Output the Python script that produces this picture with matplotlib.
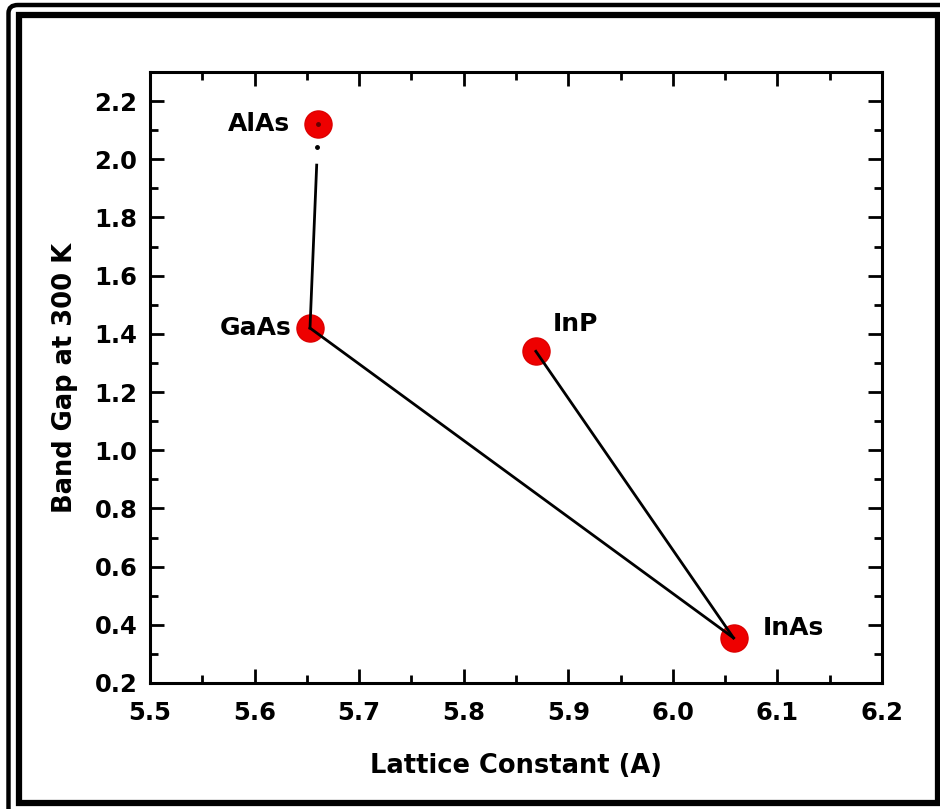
import matplotlib
matplotlib.use("Agg")
import matplotlib.pyplot as plt
from matplotlib.patches import Rectangle, FancyBboxPatch
from matplotlib.ticker import MultipleLocator

# compounds: lattice constant (A), band gap at 300 K (eV)
names = ["AlAs", "GaAs", "InP", "InAs"]
lattice = [5.661, 5.653, 5.869, 6.058]
gap = [2.12, 1.42, 1.34, 0.355]

# pairs joined by lines
links = [("GaAs", "InAs"), ("InP", "InAs")]

plt.rcParams['font.family'] = ['DejaVu Sans']
plt.rcParams['font.weight'] = 'bold'

fig = plt.figure(figsize=(9.4, 8.09), dpi=100)
ax = fig.add_axes([150/940, 1 - 683/809, 732/940, 611/809])

idx = {n: i for i, n in enumerate(names)}
ax.scatter(lattice, gap, s=380, color='#ee0000', edgecolors='#dd0000', zorder=2)

for a, b in links:
    i, j = idx[a], idx[b]
    ax.plot([lattice[i], lattice[j]], [gap[i], gap[j]], color='black', lw=2, zorder=3)

# GaAs -> AlAs line is broken near the top
i, j = idx["GaAs"], idx["AlAs"]
f = 0.8
ax.plot([lattice[i], lattice[i] + f * (lattice[j] - lattice[i])],
        [gap[i], gap[i] + f * (gap[j] - gap[i])], color='black', lw=2, zorder=3)
f = 0.89
ax.plot([lattice[i] + f * (lattice[j] - lattice[i])], [gap[i] + f * (gap[j] - gap[i])],
        marker='o', ms=2.5, color='black', zorder=3)
ax.plot([lattice[j]], [gap[j]], marker='o', ms=2.5, color='#660000', zorder=3)

label_off = {"AlAs": (-0.027, 0.0, 'right', 'center'),
             "GaAs": (-0.018, 0.0, 'right', 'center'),
             "InP": (0.016, 0.093, 'left', 'center'),
             "InAs": (0.028, 0.035, 'left', 'center')}
for n in names:
    dx, dy, ha, va = label_off[n]
    ax.text(lattice[idx[n]] + dx, gap[idx[n]] + dy, n, fontsize=18, fontweight='bold',
            ha=ha, va=va)

ax.set_xlim(5.5, 6.2)
ax.set_ylim(0.2, 2.3)
ax.xaxis.set_major_locator(MultipleLocator(0.1))
ax.xaxis.set_minor_locator(MultipleLocator(0.05))
ax.yaxis.set_minor_locator(MultipleLocator(0.1))
ax.set_yticks([0.2, 0.4, 0.6, 0.8, 1.0, 1.2, 1.4, 1.6, 1.8, 2.0, 2.2])
ax.tick_params(which='both', direction='in', top=True, right=True, width=2, labelsize=17.5)
ax.tick_params(which='major', length=10, pad=9)
ax.tick_params(axis='x', which='major', pad=13)
ax.tick_params(which='minor', length=6)
for s in ax.spines.values():
    s.set_linewidth(2.2)

ax.set_xlabel("Lattice Constant (A)", fontsize=18.5, fontweight='bold', labelpad=20)
ax.set_ylabel("Band Gap at 300 K", fontsize=18.5, fontweight='bold', labelpad=12)

# double frame round the picture
W, H = 940, 809
outer = FancyBboxPatch((8.5/W, -0.05), 1.2, (809 - 5) / H + 0.05,
                       boxstyle="round,pad=0,rounding_size=0.01",
                       transform=fig.transFigure, fill=False, lw=3.2, ec='black')
inner = Rectangle((19/W, 1 - 803/H), (938 - 19) / W, (803 - 15) / H,
                  transform=fig.transFigure, fill=False, lw=4.5, ec='black')
fig.patches.extend([outer, inner])

fig.savefig("out.png", dpi=100)
